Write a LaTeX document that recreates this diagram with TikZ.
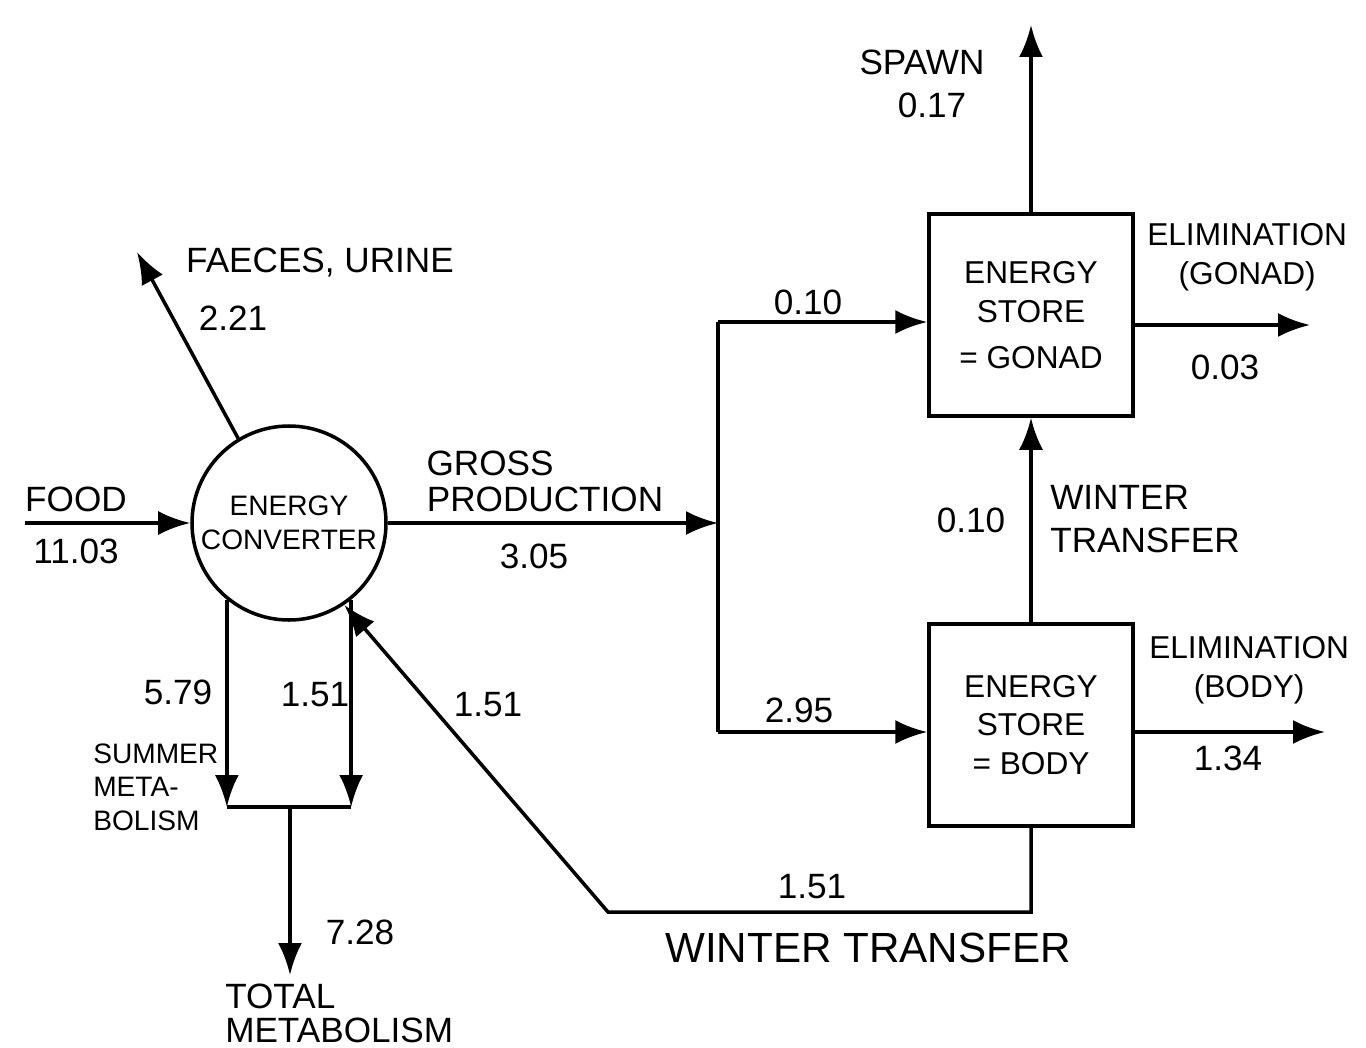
\documentclass[tikz,border=0pt]{standalone}
\usepackage{fontspec}
\setsansfont{Liberation Sans}
\usetikzlibrary{arrows.meta,positioning,calc}

\begin{document}
\begin{tikzpicture}[x=1cm,y=1cm,line width=1pt,every node/.style={font=\sffamily},
  flow/.style={-{Latex[length=3.2mm,width=2.4mm]}},
  store/.style={draw,minimum width=2.04cm,minimum height=2.02cm,align=center,font=\sffamily\small},
  lbl/.style={inner sep=1pt,align=left}]
\path[use as bounding box] (0,0) rectangle (13.66,10.47);

% converter and the two stores
\node[draw,circle,minimum size=1.94cm,inner sep=0pt,align=center,font=\sffamily\footnotesize] (conv) at (2.89,5.24) {ENERGY\\CONVERTER};
\node[store] (gonad) at (10.31,7.32) {ENERGY\\STORE\\[2pt] = GONAD};
\node[store] (body) at (10.31,3.22) {ENERGY\\STORE\\= BODY};

% free ends and corners
\coordinate (foodin) at (0.25,5.24);
\coordinate (faeces) at (1.37,7.95);
\coordinate (split) at (7.18,5.24);
\coordinate (splittop) at (7.18,7.25);
\coordinate (splitbot) at (7.18,3.15);
\coordinate (spawn) at (10.31,10.22);
\coordinate (elimg) at (13.10,7.22);
\coordinate (elimb) at (13.25,3.15);
\coordinate (wtcorner) at (6.08,1.35);
\coordinate (mbar) at (2.90,2.40);
\coordinate (total) at (2.90,0.72);

% flows
\draw[flow] (foodin) -- (conv);
\draw[flow] (conv.121) -- (faeces);
\draw[flow] (conv) -- (split);
\draw (splittop) -- (splitbot);
\draw[flow] (splittop) -- (splittop -| gonad.west);
\draw[flow] (splitbot) -- (splitbot -| body.west);
\draw[flow] (gonad.north) -- (spawn);
\draw[flow] (gonad.east |- elimg) -- (elimg);
\draw[flow] (body.east |- elimb) -- (elimb);
\draw[flow] (body.north) -- (gonad.south);
\draw[flow] (body.south) |- (wtcorner) -- (conv.-56);
\draw[flow] (conv.231) -- (conv.231 |- mbar);
\draw[flow] (conv.-51) -- (conv.-51 |- mbar);
\draw (conv.231 |- mbar) -- (conv.-51 |- mbar);
\draw[flow] (mbar) -- (total);

% labels
\node[lbl] (foodlbl) at (0.76,5.48) {FOOD};
\node[lbl] (foodval) at (0.76,4.96) {11.03};
\node[lbl] (faeceslbl) at (3.20,7.85) {FAECES, URINE};
\node[lbl] (faecesval) at (2.33,7.29) {2.21};
\node[lbl] (grosslbl) at (4.90,5.84) {GROSS};
\node[lbl] (prodlbl) at (5.45,5.48) {PRODUCTION};
\node[lbl] (grossval) at (5.34,4.91) {3.05};
\node[lbl] (topval) at (8.08,7.45) {0.10};
\node[lbl] (botval) at (7.99,3.37) {2.95};
\node[lbl] (spawnlbl) at (9.22,9.85) {SPAWN};
\node[lbl] (spawnval) at (9.32,9.42) {0.17};
\node[lbl,align=center,font=\sffamily\small,anchor=west] (elimglbl) at (11.42,7.90) {ELIMINATION\\(GONAD)};
\node[lbl] (elimgval) at (12.25,6.80) {0.03};
\node[lbl] (upval) at (9.71,5.27) {0.10};
\node[lbl,anchor=west] (uplbl) at (10.45,5.28) {WINTER\\TRANSFER};
\node[lbl,align=center,font=\sffamily\small,anchor=west] (elimblbl) at (11.44,3.77) {ELIMINATION\\(BODY)};
\node[lbl] (elimbval) at (12.28,2.89) {1.34};
\node[lbl] (backval) at (8.12,1.60) {1.51};
\node[lbl,font=\sffamily\large] (backlbl) at (8.68,0.99) {WINTER TRANSFER};
\node[lbl] (diagval) at (4.88,3.42) {1.51};
\node[lbl] (summerval) at (1.78,3.55) {5.79};
\node[lbl] (winterval) at (3.15,3.52) {1.51};
\node[lbl,anchor=west,font=\sffamily\footnotesize] (summerlbl) at (0.88,2.60) {SUMMER\\META-\\BOLISM};
\node[lbl] (totalval) at (3.60,1.15) {7.28};
\node[lbl,anchor=base west] (totallbl) at (2.20,0.39) {TOTAL};
\node[lbl,anchor=base west] (metablbl) at (2.20,0.05) {METABOLISM};

\end{tikzpicture}
\end{document}
